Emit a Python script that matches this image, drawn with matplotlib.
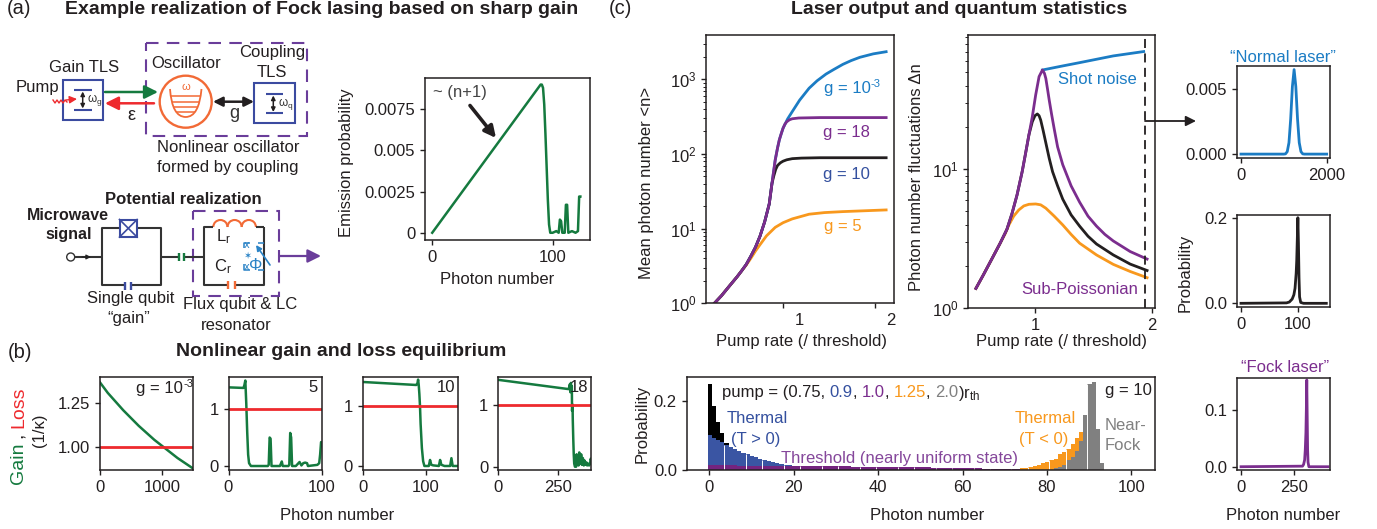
import matplotlib
matplotlib.use("Agg")
import matplotlib.pyplot as plt
from matplotlib.patches import Rectangle, Circle, Arc, PathPatch
from matplotlib.path import Path
from matplotlib.ticker import NullFormatter
from matplotlib.transforms import ScaledTranslation

W, H = 1377, 529
plt.rcParams.update({
    "font.family": ["Liberation Sans", "DejaVu Sans"], "font.size": 12,
    "mathtext.fontset": "custom", "mathtext.rm": "Liberation Sans",
    "mathtext.it": "Liberation Sans", "mathtext.bf": "Liberation Sans:bold",
    "mathtext.default": "regular", "axes.linewidth": 1.1,
    "xtick.major.width": 1.0, "ytick.major.width": 1.0, "ytick.minor.width": 0.7,
    "xtick.major.size": 3.5, "ytick.major.size": 3.5, "ytick.minor.size": 2,
    "text.color": "#231f20", "axes.edgecolor": "#231f20",
    "xtick.color": "#231f20", "ytick.color": "#231f20", "axes.labelcolor": "#231f20",
    "xtick.major.pad": 3.5, "ytick.major.pad": 3.5,
})
GREEN, RED, BLUE, PURPLE, NAVY, ORANGE, GREY, BLACK = (
    "#157a3f", "#ee2a2e", "#1b7cc4", "#7b2d8e", "#34509f", "#f8981d", "#808080", "#231f20")
COIL = "#f26a36"; BOXB = "#3b4ba0"; FLUX = "#2a83c6"; DASHP = "#6a3d9a"

# ---- data -----------------------------------------------------------------
em_n = [0, 45, 90, 91, 92, 93, 94, 95, 96, 97, 98, 100, 103, 105, 106, 107, 108, 110, 111, 112, 113, 116, 119, 121, 122, 123]
em_p = [0, .0045, .0090, .0090, .0088, .0078, .0060, .0040, .0020, .0005, 0, 0, .0001, 0, .0008, .0007, 0, 0, .0017, .0017, 0, .0001, 0, .0001, .0022, .0022]

b1_n = [0, 125, 250, 375, 500, 625, 750, 875, 1000, 1125, 1250, 1375, 1500]
b1_g = [1.37, 1.31, 1.26, 1.21, 1.165, 1.12, 1.08, 1.04, 1.005, .97, .935, .905, .875]
b2_n = [0, 16, 17, 18, 19, 20, 21, 22, 24, 42, 43, 44, 45, 46, 55, 57, 58, 64, 65, 66, 67, 68, 72, 76, 78, 80, 82, 84, 85, 95, 97, 98, 99, 100]
b2_g = [1.38, 1.37, 1.42, 1.5, 1.1, .6, .2, .05, 0, 0, .02, .5, .48, 0, 0, .08, 0, 0, .02, .58, .5, 0, 0, .07, .01, .05, .06, .05, 0, .02, .05, .2, .42, .4]
b3_n = [0, 85, 87, 88, 89, 90, 91, 92, 94, 96, 98, 105, 107, 109, 112, 121, 123, 125, 130, 139, 141, 143, 150]
b3_g = [1.40, 1.35, 1.38, 1.44, 1.35, 1.2, 1.0, .7, .3, .08, 0, 0, .1, .02, .01, 0, .1, .02, 0, 0, .13, 0, 0]
b4_n = [0, 295, 300, 302, 304, 306, 308, 309, 311, 312, 314, 316, 318, 321, 326, 328, 331, 333, 336, 339, 343, 347, 350, 354, 358, 361, 365, 369, 372, 376, 380, 384, 387, 390]
b4_g = [1.40, 1.25, 1.33, 1.2, 1.35, 1.25, 1.3, .9, 1.0, .75, .45, .2, .05, 0, 0, .2, .03, .18, .02, .23, .05, .2, .03, .14, .02, .1, .03, .07, .02, .05, .02, .05, .13, .08]

shared_x = [.254, .33, .42, .5, .55, .6, .65, .7, .75, .8, .85, .88]
shared_n = [1.0, 1.26, 1.72, 2.26, 2.72, 3.31, 4.27, 5.62, 7.94, 12.3, 21.4, 40.5]
c1_upper_x = shared_x + [.915, .94, .96, .98, 1.0]
c1_upper_n = shared_n + [83, 120, 155, 186, 221]
blue_x = c1_upper_x + [1.05, 1.1, 1.18, 1.283, 1.37, 1.467, 1.55, 1.65, 1.74, 1.835, 1.98, 2.12]
blue_n = c1_upper_n + [295, 369, 525, 759, 955, 1175, 1350, 1585, 1780, 1970, 2190, 2340]
purple_x = c1_upper_x + [1.02, 1.04, 1.07, 1.1, 1.17, 1.4, 2.12]
purple_n = c1_upper_n + [250, 270, 287, 296, 303, 307, 307]
black_x = shared_x + [.9, .92, .94, .97, 1.0, 1.04, 1.1, 1.2, 1.4, 2.12]
black_n = shared_n + [51, 62, 70, 76, 80, 83.5, 86.5, 88, 89, 89]
orange_x = [.254, .33, .42, .5, .55, .6, .65, .7, .75, .82, .915, 1.0, 1.1, 1.283, 1.45, 1.65, 2.12]
orange_n = [1.0, 1.26, 1.72, 2.26, 2.72, 3.25, 4.0, 5.0, 6.1, 8.0, 10.4, 12.0, 13.5, 15.6, 16.4, 16.9, 17.8]

d_rise_x = [.493, .557, .629, .701, .759, .803, .846, .890, .919, .948]
d_rise_y = [1.39, 1.74, 2.26, 2.94, 3.70, 4.82, 6.54, 9.62, 13.0, 17.7]
d_black_x = d_rise_x + [.977, 1.0, 1.02, 1.035, 1.049, 1.07, 1.093, 1.122, 1.151, 1.194, 1.238, 1.31, 1.383, 1.455, 1.528, 1.672, 1.817, 1.962]
d_black_y = d_rise_y + [22, 24.3, 25, 24.3, 22.6, 19, 15.5, 12, 9.6, 7.6, 6.1, 4.7, 3.9, 3.3, 2.9, 2.42, 2.08, 1.87]
d_purple_x = d_rise_x + [.977, 1.006, 1.035, 1.064, 1.081, 1.093, 1.107, 1.122, 1.142, 1.165, 1.194, 1.238, 1.31, 1.383, 1.455, 1.528, 1.6, 1.672, 1.817, 1.962]
d_purple_y = d_rise_y + [23.9, 34.3, 46.4, 51.8, 49, 45, 38, 31.5, 25, 19.5, 14.5, 10.8, 7.6, 5.8, 4.6, 3.9, 3.4, 3.05, 2.56, 2.26]
d_orange_x = [.493, .557, .629, .701, .745, .774, .817, .861, .904, .948, 1.006, 1.049, 1.093, 1.165, 1.238, 1.31, 1.383, 1.528, 1.672, 1.817, 1.962]
d_orange_y = [1.39, 1.74, 2.26, 2.94, 3.45, 3.95, 4.6, 5.1, 5.45, 5.6, 5.63, 5.55, 5.25, 4.6, 3.98, 3.4, 2.94, 2.42, 2.07, 1.84, 1.66]
d_blue_x = [1.064, 1.238, 1.383, 1.672, 1.933]
d_blue_y = [51.8, 55.4, 58.5, 65.4, 70.3]

r1_n = [0, 1000, 1040, 1080, 1120, 1160, 1200, 1240, 1280, 1320, 1360, 1400, 1440, 1480, 2000]
r1_p = [0, 0, .00002, .00019, .00088, .0027, .0052, .0065, .0052, .0027, .00088, .00019, .00002, 0, 0]
r2_n = [0, 80, 85, 90, 93, 95, 97, 98, 99, 100, 101, 102, 103, 105, 110, 150]
r2_p = [0, .001, .003, .01, .02, .035, .07, .1, .15, .2, .14, .06, .015, .002, 0, 0]
r3_n = [0, 290, 295, 300, 303, 306, 308, 310, 312, 314, 316, 320, 410]
r3_p = [0, .001, .004, .012, .03, .06, .1, .153, .09, .03, .008, 0, 0]

h_black = [.25, .186, .14, .108, .08, .06, .045, .03, .02, .015, .01]
h_blue = [.102, .095, .089, .081, .074, .067, .062, .056, .051, .046, .042, .038, .034, .03, .026, .023, .02, .018, .016, .014]
h_purple = [.0145, .0145, .0144, .0143, .0142, .014, .014, .0138, .0137, .0136, .0135, .0134, .0133, .0132, .0131,
            .013, .0129, .0128, .0127, .0126, .0125, .0124, .0123, .0122, .012, .0119, .0118, .0117, .0116, .0115,
            .0114, .0113, .0112, .0111, .011, .0109, .0108, .0107, .0106, .0105, .0104, .0103, .0101, .01, .0098,
            .0096, .0094, .0092, .009, .0088, .0086, .0084, .0082, .008, .0078, .0076, .0074, .0072, .007, .0068,
            .0065, .0063, .006, .0058, .0055, .0052, .005, .0047, .0044, .0041, .0038, .0035, .003, .0025]
h_orange_n = list(range(68, 89))
h_orange = [.001, .0015, .002, .003, .004, .005, .006, .008, .01, .013, .016, .02, .024, .03, .033, .046, .052, .062, .076, .094, .112]
h_grey_n = list(range(81, 94))
h_grey = [.002, .006, .01, .015, .03, .04, .055, .085, .16, .25, .256, .12, .02]
h_gaps = [4, 9, 13, 18, 22, 27, 31, 36, 40, 45, 49, 54, 58, 63, 67, 72, 76, 81, 85, 90]

# ---- layout helpers --------------------------------------------------------
fig = plt.figure(figsize=(W / 100, H / 100), dpi=100)

def mk(l, t, r, b):
    return fig.add_axes([l / W, 1 - b / H, (r - l) / W, (b - t) / H])

ov = fig.add_axes([0, 0, 1, 1], zorder=20)
ov.set_xlim(0, W); ov.set_ylim(H, 0); ov.axis("off"); ov.patch.set_alpha(0)

def T(x, y, s, ha="center", va="center", color=BLACK, size=12, weight="normal", rot=0, **kw):
    return ov.text(x, y, s, ha=ha, va=va, color=color, fontsize=size, fontweight=weight, rotation=rot, **kw)

def L(xs, ys, color=BLACK, lw=1.5, **kw):
    ov.plot(xs, ys, color=color, lw=lw, solid_capstyle="butt", **kw)

def A(x0, y0, x1, y1, color=BLACK, lw=1.5, style="-|>", ms=14):
    ov.annotate("", xy=(x1, y1), xytext=(x0, y0), arrowprops=dict(
        arrowstyle=style, color=color, lw=lw, mutation_scale=ms, shrinkA=0, shrinkB=0))

def BOX(x0, y0, x1, y1, color=BOXB, lw=1.5, **kw):
    ov.add_patch(Rectangle((x0, y0), x1 - x0, y1 - y0, fc="none", ec=color, lw=lw, **kw))

def ylab(ax, s, px, py, **kw):
    bb = ax.get_position()
    ax.set_ylabel(s, **kw)
    ax.yaxis.label.set_verticalalignment("center")
    px += 2
    ax.yaxis.set_label_coords((px / W - bb.x0) / bb.width, ((1 - py / H) - bb.y0) / bb.height)

def xlab(ax, s, px, py, **kw):
    bb = ax.get_position()
    ax.set_xlabel(s, **kw)
    ax.xaxis.set_label_coords((px / W - bb.x0) / bb.width, ((1 - py / H) - bb.y0) / bb.height)
    ax.xaxis.label.set_verticalalignment("center")

def gexp(x, y, color=BLACK, ha="left"):
    # "g = 10" followed by a small raised "-3"
    if ha == "center":
        x -= 27.5
    t = T(x, y, "g = 10", ha="left", color=color)
    w = t.get_window_extent(fig.canvas.get_renderer()).width
    T(x + w + 0.5, y - 4, "-3", ha="left", color=color, size=8)

# ---- emission panel --------------------------------------------------------
ax = mk(425, 78, 590, 240)
ax.plot(em_n, em_p, color=GREEN, lw=1.8)
ax.set_xlim(-6, 131); ax.set_ylim(-.00044, .0094)
ax.set_xticks([0, 100]); ax.set_yticks([0, .0025, .005, .0075])
ax.set_yticklabels(["0", "0.0025", "0.005", "0.0075"])
ylab(ax, "Emission probability", 345, 163)
xlab(ax, "Photon number", 497, 280)
T(460, 93, "~ (n+1)", color="#444444")
A(470, 105.5, 496, 138, lw=2.6, ms=17)

# ---- (b) ------------------------------------------------------------------
bt, bb_ = 376.7, 470
specs = [
    (100, 193, b1_n, b1_g, (0, 1500), (.866, 1.403), [0, 1000], [1.0, 1.25], ["1.00", "1.25"]),
    (228.5, 322, b2_n, b2_g, (0, 100), (-.07, 1.567), [0, 100], [0, 1], ["0", "1"]),
    (362.8, 457.7, b3_n, b3_g, (0, 151), (-.067, 1.488), [0, 100], [0, 1], ["0", "1"]),
    (498, 591, b4_n, b4_g, (0, 388), (-.053, 1.45), [0, 250], [0, 1], ["0", "1"]),
]
for l, r, xs, ys, xl, yl, xt, yt, ytl in specs:
    ax = mk(l, bt, r, bb_)
    ax.plot(xs, ys, color=GREEN, lw=1.8, solid_joinstyle="round")
    ax.axhline(1, color=RED, lw=2.0)
    ax.set_xlim(*xl); ax.set_ylim(*yl)
    ax.set_xticks(xt); ax.set_yticks(yt); ax.set_yticklabels(ytl)
fig.canvas.draw()
gexp(163.8, 388, ha="center")
T(313, 387, "5"); T(445.8, 387, "10"); T(578.6, 387, "18")
T(337, 515, "Photon number")
T(23, 428, "Loss", ha="left", va="baseline", color=RED, size=14, rot=90, rotation_mode="anchor")
T(23, 484, "Gain", ha="left", va="baseline", color=GREEN, size=14, rot=90, rotation_mode="anchor")
T(23, 438, ",", ha="left", va="baseline", color=BLACK, size=14, rot=90, rotation_mode="anchor")
T(40, 430, "(1/κ)", rot=90)

# ---- (c) log panels --------------------------------------------------------
ax = mk(706, 35, 893.5, 303.3)
ax.set_yscale("log")
ax.plot(blue_x, blue_n, color=BLUE, lw=2)
ax.plot(orange_x, orange_n, color=ORANGE, lw=2)
ax.plot(black_x, black_n, color=BLACK, lw=2)
ax.plot(purple_x, purple_n, color=PURPLE, lw=2)
ax.set_xlim(.163, 2.2); ax.set_ylim(1, 10 ** 3.593)
ax.set_xticks([1, 2]); ax.set_yticks([1, 10, 100, 1000])
ax.yaxis.set_minor_formatter(NullFormatter())
ylab(ax, "Mean photon number <n>", 645, 183)
xlab(ax, "Pump rate (/ threshold)", 801.6, 341.7)
for lab in ax.get_xticklabels():
    lab.set_transform(lab.get_transform() + ScaledTranslation(16 / 100, 0, fig.dpi_scale_trans))
gexp(823.6, 88, color=BLUE)
T(822.6, 132.7, "g = 18", ha="left", color=PURPLE)
T(822.6, 174, "g = 10", ha="left", color=NAVY)
T(823.6, 226.7, "g = 5", ha="left", color=ORANGE)

ax = mk(968, 35, 1155, 308.3)
ax.set_yscale("log")
ax.plot(d_blue_x, d_blue_y, color=BLUE, lw=2)
ax.plot(d_orange_x, d_orange_y, color=ORANGE, lw=2)
ax.plot(d_black_x, d_black_y, color=BLACK, lw=2)
ax.plot(d_purple_x, d_purple_y, color=PURPLE, lw=2)
ax.axvline(1.94, color=BLACK, lw=1.3, ls=(0, (5, 3)))
ax.set_xlim(.425, 2.03); ax.set_ylim(1, 10 ** 1.966)
ax.set_xticks([1, 2]); ax.set_yticks([1, 10])
ax.yaxis.set_minor_formatter(NullFormatter())
ylab(ax, "Photon number fluctuations Δn", 914, 177.5)
xlab(ax, "Pump rate (/ threshold)", 1061.6, 341.7)
T(1058.5, 79.3, "Shot noise", ha="left", color=BLUE)
T(1021, 290, "Sub-Poissonian", ha="left", color=PURPLE)
A(1145, 121, 1196, 121, lw=1.3, ms=15)

# ---- right column ----------------------------------------------------------
ax = mk(1237, 65.7, 1330.3, 158)
ax.plot(r1_n, r1_p, color=BLUE, lw=2)
ax.set_xlim(-93, 2085); ax.set_ylim(-.0003, .0068)
ax.set_xticks([0, 2000]); ax.set_yticks([0, .005]); ax.set_yticklabels(["0.000", "0.005"])
T(1283, 57, "“Normal laser”", color=BLUE)

ax = mk(1237, 214.7, 1330.3, 307)
ax.plot(r2_n, r2_p, color=BLACK, lw=2)
ax.set_xlim(-7, 157); ax.set_ylim(-.0086, .207)
ax.set_xticks([0, 100]); ax.set_yticks([0, .2]); ax.set_yticklabels(["0.0", "0.2"])
ylab(ax, "Probability", 1183, 273)

ax = mk(1237, 377.7, 1330.3, 470.3)
ax.plot(r3_n, r3_p, color=PURPLE, lw=2)
ax.set_xlim(-19, 421); ax.set_ylim(-.0063, .157)
ax.set_xticks([0, 250]); ax.set_yticks([0, .1]); ax.set_yticklabels(["0.0", "0.1"])
xlab(ax, "Photon number", 1282.7, 515)
T(1285, 368, "“Fock laser”", color=PURPLE)

# ---- histogram -------------------------------------------------------------
ax = mk(686.7, 377.3, 1155, 470.3)
off = 0.1
ax.bar([i + off for i in range(len(h_black))], h_black, width=1, color="black", lw=0)
ax.bar([i + off for i in range(len(h_blue))], h_blue, width=1, color="#3a55a3", lw=0)
ax.bar([i + off for i in h_orange_n], h_orange, width=1, color=ORANGE, lw=0)
ax.bar([i + off for i in h_grey_n], h_grey, width=1, color=GREY, lw=0)
ax.bar([i + off for i in range(len(h_purple))], h_purple, width=1, color="#74247f", lw=0)
heights = []
for g in h_gaps:
    v = 0
    if g < len(h_blue): v = max(v, h_blue[g])
    if g < len(h_purple): v = max(v, h_purple[g])
    if g in h_orange_n: v = max(v, h_orange[h_orange_n.index(g)])
    if g in h_grey_n: v = max(v, h_grey[h_grey_n.index(g)])
    heights.append(v)
ax.vlines([g - .4 for g in h_gaps], 0, heights, color="white", lw=0.7)
ax.set_xlim(-5.35, 105.6); ax.set_ylim(0, .27)
ax.set_xticks(range(0, 101, 20)); ax.set_yticks([0, .2]); ax.set_yticklabels(["0.0", "0.2"])
ylab(ax, "Probability", 640, 424)
xlab(ax, "Photon number", 926.7, 515.7)

fig.canvas.draw()
rend = fig.canvas.get_renderer()
x = 721.7
for s, c in [("pump = (0.75, ", BLACK), ("0.9", NAVY), (", ", BLACK), ("1.0", PURPLE), (", ", BLACK),
             ("1.25", ORANGE), (", ", BLACK), ("2.0", GREY), (")r$_{th}$", BLACK)]:
    tt = T(x, 390.7, s.replace(" ", "\u00a0"), ha="left", color=c, va="center_baseline")
    x += tt.get_window_extent(rend).width
T(757, 418.3, "Thermal", color=NAVY); T(756, 439.3, "(T > 0)", color=NAVY)
T(899.3, 458.7, "Threshold (nearly uniform state)", color="#85479b")
T(1045.7, 418.3, "Thermal", color=ORANGE); T(1044, 439.3, "(T < 0)", color=ORANGE)
T(1151.7, 390.7, "g = 10", ha="right")
T(1105, 425.7, "Near-", ha="left", color=GREY); T(1105, 445.3, "Fock", ha="left", color=GREY)

# ---- titles ----------------------------------------------------------------
T(7, 9, "(a)", ha="left", size=14.5)
T(65, 9, "Example realization of Fock lasing based on sharp gain", ha="left", size=14, weight="bold")
T(8, 352, "(b)", ha="left", size=14.5)
T(341, 352, "Nonlinear gain and loss equilibrium", size=14, weight="bold")
T(609, 9, "(c)", ha="left", size=14.5)
T(959, 9, "Laser output and quantum statistics", size=14, weight="bold")

# ---- schematic (a) top -----------------------------------------------------
BOX(145.7, 42.7, 306.7, 135.7, color=DASHP, lw=1.5, ls=(0, (6, 4)))
BOX(63.3, 80, 103.3, 120); BOX(254.3, 83.3, 294.7, 123.3)
L([74, 91.7], [90.3, 90.3], BOXB); L([74, 91.7], [109.7, 109.7], BOXB)
L([265.7, 283.3], [94, 94], BOXB); L([265.7, 283.3], [113.3, 113.3], BOXB)
A(82.7, 91.5, 82.7, 108.5, lw=1.1, style="<|-|>", ms=6)
A(273.3, 95.5, 273.3, 112, lw=1.1, style="<|-|>", ms=6)
T(87, 100, "ω$_g$", ha="left", size=8.5, color="#333333")
T(278, 104, "ω$_q$", ha="left", size=8.5, color="#333333")
A(105, 92, 158, 92, color=GREEN, lw=1.8, ms=20)
A(154, 103.3, 105, 103.3, color=RED, lw=1.8, ms=20)
ov.plot([53, 55, 57, 59, 61, 63, 65, 67], [100, 103, 100, 103, 100, 103, 100, 102], color=RED, lw=1)
A(66, 100, 77, 99, color=RED, lw=1, ms=11)
ov.add_patch(Circle((185.7, 101.7), 26, fc="none", ec=COIL, lw=1.7))
ov.add_patch(PathPatch(Path([(170, 89), (172, 117), (185.7, 117), (199, 117), (201.5, 89)],
                            [Path.MOVETO, Path.CURVE3, Path.CURVE3, Path.CURVE3, Path.CURVE3]),
                       fc="none", ec=COIL, lw=1.3))
for yy, dx in [(96, 14.5), (101.5, 13.5), (107, 12.5), (112, 9.5)]:
    L([185.7 - dx, 185.7 + dx], [yy, yy], COIL, lw=1.1)
T(185.7, 87, "ω", size=8, color=COIL)
A(213, 101.7, 254, 101.7, lw=1.8, style="<|-|>", ms=14)
T(234, 113, "g", size=13, color="#333333")
T(84, 67.7, "Gain TLS"); T(37.7, 87.7, "Pump")
T(185.7, 63.3, "Oscillator"); T(271.7, 53, "Coupling"); T(271.7, 72.7, "TLS")
T(131.7, 116, "ε", size=13)
T(228.3, 147.7, "Nonlinear oscillator"); T(227.7, 167.7, "formed by coupling")

# ---- schematic (a) bottom --------------------------------------------------
T(183, 199, "Potential realization", weight="bold")
T(68.3, 215, "Microwave", weight="bold", size=11.5); T(69, 234, "signal", weight="bold", size=11.5)
ov.add_patch(Circle((70.7, 257), 4, fc="white", ec="#333333", lw=1))
L([75, 101.7], [257, 257], "#333333", 1.5)
A(82, 257, 91, 257, color="#222222", lw=.8, ms=7)
L([128, 101.7, 101.7, 125], [227.7, 227.7, 285, 285], "#333333", 1.5)
L([131, 160.7, 160.7, 128], [285, 285, 227.7, 227.7], "#333333", 1.5)
ov.add_patch(Rectangle((119.5, 219.5), 17.6, 17.6, fc="white", ec=BOXB, lw=1.5, zorder=3))
ov.plot([119.5, 137.1], [219.5, 237.1], color=BOXB, lw=1.2, zorder=4)
ov.plot([119.5, 137.1], [237.1, 219.5], color=BOXB, lw=1.2, zorder=4)
L([125, 125], [281.5, 289.5], BOXB, 1.7); L([131, 131], [281.5, 289.5], BOXB, 1.7)
L([160.7, 179], [256.7, 256.7], "#333333", 1.5); L([183.7, 204], [256.7, 256.7], "#333333", 1.5)
L([179, 179], [252.5, 260.5], GREEN, 1.7); L([183.7, 183.7], [252.5, 260.5], GREEN, 1.7)
BOX(193, 211, 279, 295.7, color=DASHP, lw=1.5, ls=(0, (6, 4)))
L([213.3, 204, 204, 228.3], [226.7, 226.7, 285, 285], "#333333", 1.5)
L([235, 264, 264, 264], [285, 285, 245, 226.7], "#333333", 1.5)
L([264, 256], [226.7, 226.7], "#333333", 1.5)
for cx in [220.4, 234.6, 248.8]:
    ov.add_patch(Arc((cx, 227), 14.2, 14, theta1=180, theta2=360, ec=COIL, lw=1.5))
L([228.3, 228.3], [281, 289], COIL, 1.7); L([235, 235], [281, 289], COIL, 1.7)
T(216, 237, "L$_r$", ha="left"); T(214, 267, "C$_r$", ha="left")
T(256, 265, "Φ", color=FLUX, size=12)
for yy in [245, 256, 266.7]:
    T(246.7, yy, "✶" if yy == 256 else "x", color=FLUX, size=7, family="DejaVu Sans")
L([244, 244, 250], [248, 243, 243], FLUX, 1.1); L([244, 244, 250], [264, 270, 270], FLUX, 1.1)
L([258, 264], [243, 243], FLUX, 1.1); L([258, 264], [270, 270], FLUX, 1.1)
A(270, 265, 256, 245, color=FLUX, lw=1.2, ms=8)
A(280, 256, 321, 256, color=DASHP, lw=1.6, ms=20)
T(131, 298.3, "Single qubit"); T(129, 318.3, "“gain”")
T(240, 305, "Flux qubit & LC"); T(236.7, 325, "resonator")

fig.savefig("out.png", dpi=100)
